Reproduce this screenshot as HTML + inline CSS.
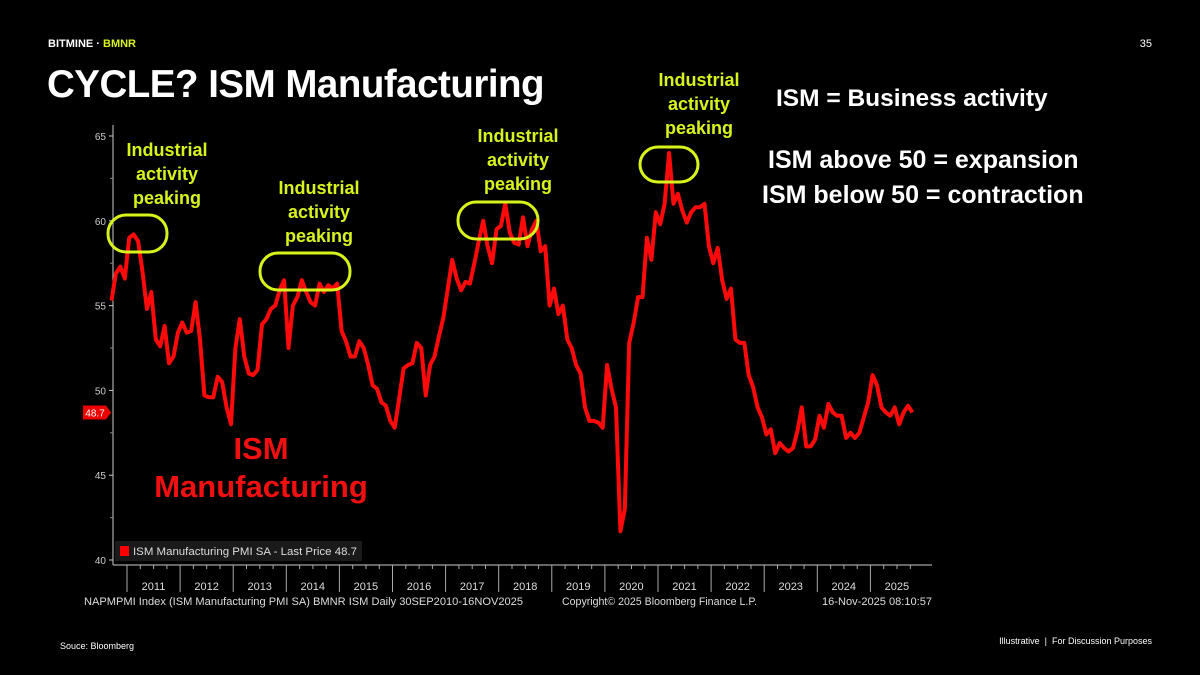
<!DOCTYPE html>
<html><head><meta charset="utf-8"><style>
html,body{margin:0;padding:0;background:#000;}
#root{position:relative;width:1200px;height:675px;background:#000;overflow:hidden;font-family:"Liberation Sans",sans-serif;color:#fff;}
.abs{position:absolute;white-space:nowrap;}
.ann{color:#d8f21c;font-weight:bold;font-size:18px;text-align:center;line-height:24px;white-space:nowrap;position:absolute;}
.rt{color:#fff;font-weight:bold;font-size:25px;position:absolute;white-space:nowrap;}
</style></head><body>
<div id="root">
<div class="abs" style="left:48px;top:38px;font-size:11px;font-weight:bold;">BITMINE · <span style="color:#d8f21c">BMNR</span></div>
<div class="abs" style="right:48px;top:38px;font-size:11px;">35</div>
<div class="abs" style="left:47px;top:63px;font-size:38.5px;font-weight:bold;letter-spacing:-0.5px;">CYCLE? ISM Manufacturing</div>
<svg id="chart" width="1200" height="675" style="position:absolute;left:0;top:0"></svg>
<div class="ann" style="left:117px;top:138px;width:100px">Industrial<br>activity<br>peaking</div>
<div class="ann" style="left:269px;top:176px;width:100px">Industrial<br>activity<br>peaking</div>
<div class="ann" style="left:468px;top:124px;width:100px">Industrial<br>activity<br>peaking</div>
<div class="ann" style="left:649px;top:68px;width:100px">Industrial<br>activity<br>peaking</div>
<div class="rt" style="left:776px;top:85px;font-size:24.5px;">ISM = Business activity</div>
<div class="rt" style="left:768px;top:146px;">ISM above 50 = expansion</div>
<div class="rt" style="left:762px;top:181px;">ISM below 50 = contraction</div>
<div class="abs" style="left:150px;top:430px;width:222px;text-align:center;color:#f01010;font-weight:bold;font-size:31px;line-height:38px;">ISM<br>Manufacturing</div>
<div class="abs" style="left:60px;top:641px;font-size:9px;">Souce: Bloomberg</div>
<div class="abs" style="right:48px;top:636px;font-size:9px;">Illustrative &nbsp;|&nbsp; For Discussion Purposes</div>
</div>
<script>
const startYear = 2010, startMonth = 8; // Sep 2010 (0-based)
const values = [55.3,56.9,57.3,56.6,
59.0,59.2,58.8,57.0,54.8,55.8,53.0,52.6,53.8,51.6,52.0,53.4,
54.0,53.4,53.5,55.2,53.0,49.7,49.6,49.6,50.8,50.5,49.0,48.0,
52.5,54.2,52.0,51.0,50.9,51.2,53.9,54.2,54.8,55.0,55.9,56.5,
52.5,55.0,55.5,56.5,55.8,55.2,55.0,56.3,55.8,56.2,56.0,56.3,
53.5,52.9,52.0,52.0,52.9,52.5,51.5,50.3,50.1,49.3,49.1,48.2,
47.8,49.5,51.3,51.5,51.6,52.8,52.5,49.7,51.5,52.0,53.2,54.3,
56.0,57.7,56.6,55.9,56.4,56.3,57.5,58.8,60.0,58.5,57.5,59.5,
59.7,61.0,59.3,58.7,58.6,60.2,58.5,59.5,60.0,58.2,58.5,55.0,
56.0,54.5,55.0,53.0,52.5,51.5,51.0,49.0,48.2,48.2,48.1,47.8,
51.5,50.1,49.0,41.7,43.0,52.8,54.0,55.5,55.5,59.0,57.7,60.5,
59.8,61.0,64.0,61.0,61.6,60.6,59.9,60.5,60.8,60.8,61.0,58.5,
57.5,58.4,56.5,55.4,56.0,53.0,52.8,52.8,50.9,50.2,49.0,48.4,
47.4,47.7,46.3,46.9,46.6,46.4,46.6,47.6,49.0,46.7,46.7,47.1,
48.5,47.8,49.2,48.7,48.5,48.5,47.2,47.5,47.2,47.5,48.4,49.3,
50.9,50.3,49.0,48.7,48.5,49.0,48.0,48.7,49.1,48.7];
const yTicks = [40,45,50,55,60,65];
const years = [2011,2012,2013,2014,2015,2016,2017,2018,2019,2020,2021,2022,2023,2024,2025];
const lastPrice = [48.7];

const NS="http://www.w3.org/2000/svg";
const svg=document.getElementById('chart');
const xOf=t=>127+(t-2011)*53.1;
const yOf=v=>560-(v-40)*16.96;
function mk(tag,attrs,parent){const e=document.createElementNS(NS,tag);for(const k in attrs)e.setAttribute(k,attrs[k]);(parent||svg).appendChild(e);return e;}

let e=mk('line',{x1:113,y1:125,x2:113,y2:565,stroke:'#ccc','stroke-width':1});


e=mk('line',{x1:113,y1:565,x2:932,y2:565,stroke:'#ccc','stroke-width':1});


yTicks.forEach(v=>{
  const y=yOf(v);
  let t=mk('line',{x1:109,y1:y,x2:113,y2:y,stroke:'#ccc'});
  
  
  let l=mk('text',{x:106,y:y+4,'text-anchor':'end',fill:'#ccc','font-size':10,'font-family':'Liberation Sans, sans-serif'});
  l.textContent=v;
  
  
  if(v<65){let m=mk('line',{x1:110,y1:yOf(v+2.5),x2:113,y2:yOf(v+2.5),stroke:'#888'});
  
  }
});
years.forEach(yr=>{
  const x=xOf(yr);
  let s=mk('line',{x1:x,y1:565,x2:x,y2:592,stroke:'#aaa'});
  
  
  for(let q=1;q<4;q++){let m=mk('line',{x1:x+q*13.3,y1:565,x2:x+q*13.3,y2:569,stroke:'#aaa'});
  
  }
  let l=mk('text',{x:x+26.5,y:590,'text-anchor':'middle',fill:'#ddd','font-size':11,'font-family':'Liberation Sans, sans-serif'});
  l.textContent=yr;
  
  
});
// legend
let lg=mk('rect',{x:115,y:541,width:247,height:20,fill:'#1a1a1a'});


let ls=mk('rect',{x:120,y:546,width:9,height:10,fill:'#f00'});


let lt=mk('text',{x:133,y:555,fill:'#ddd','font-size':11,'font-family':'Liberation Sans, sans-serif',textLength:224,lengthAdjust:'spacingAndGlyphs'});
lt.textContent='ISM Manufacturing PMI SA - Last Price '+lastPrice[0];


// line
const pts=values.map((v,i)=>{const t=startYear+(startMonth+i)/12+1/24;return xOf(t).toFixed(1)+','+yOf(v).toFixed(1);}).join(' ');
let pl=mk('polyline',{points:pts,fill:'none',stroke:'#ff0a0a','stroke-width':4,'stroke-linejoin':'round'});


// last price tag
const yl=yOf(lastPrice[0]);
let tg=mk('path',{d:`M83 ${yl-7} H106 L111 ${yl} L106 ${yl+7} H83 Z`,fill:'#e00'});


let tt=mk('text',{x:95,y:yl+4,'text-anchor':'middle',fill:'#fff','font-size':10,'font-family':'Liberation Sans, sans-serif'});
tt.textContent=lastPrice[0];


// highlight ellipses
[[108,215,59,37],[260,253,90,37],[458,202,80,37],[640,147,58,35]].forEach(r=>{
  let h=mk('rect',{x:r[0],y:r[1],width:r[2],height:r[3],rx:18,ry:18,fill:'none',stroke:'#d8f21c','stroke-width':3});
  
  
});
// footer text
let f1=mk('text',{x:84,y:605,fill:'#ddd','font-size':11,'font-family':'Liberation Sans, sans-serif',textLength:439,lengthAdjust:'spacingAndGlyphs'});
f1.textContent='NAPMPMI Index (ISM Manufacturing PMI SA) BMNR ISM Daily 30SEP2010-16NOV2025';


let f2=mk('text',{x:562,y:605,fill:'#ddd','font-size':11,'font-family':'Liberation Sans, sans-serif',textLength:195,lengthAdjust:'spacingAndGlyphs'});
f2.textContent='Copyright© 2025 Bloomberg Finance L.P.';


let f3=mk('text',{x:822,y:605,fill:'#ddd','font-size':11,'font-family':'Liberation Sans, sans-serif',textLength:110,lengthAdjust:'spacingAndGlyphs'});
f3.textContent='16-Nov-2025 08:10:57';


</script>
</body></html>
